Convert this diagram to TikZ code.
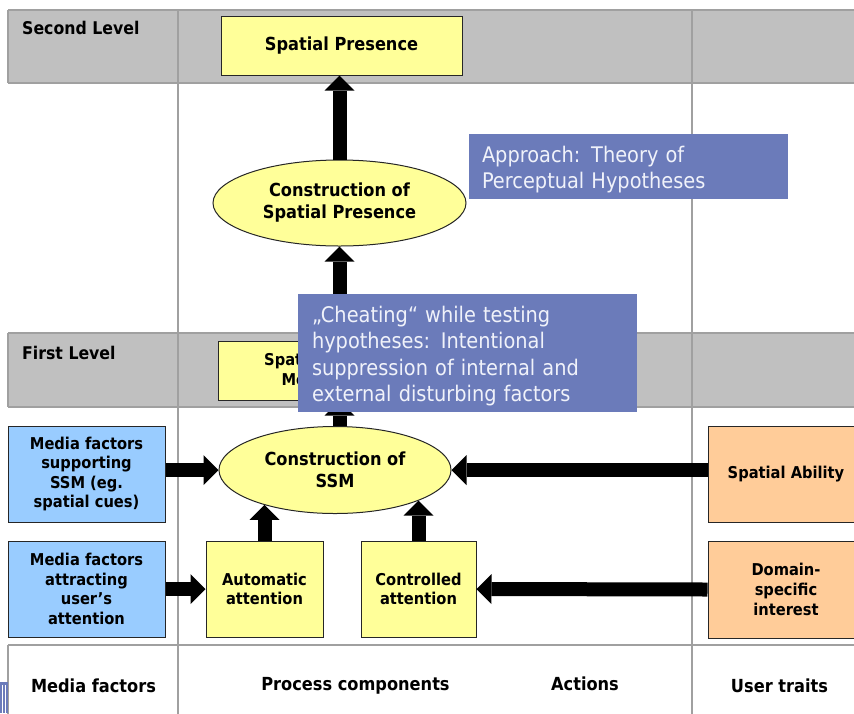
\documentclass[tikz,border=0pt]{standalone}
\usepackage{fontspec}
\setmainfont{DejaVu Sans}[FakeStretch=0.9]
\usetikzlibrary{arrows.meta,shapes.geometric}
\definecolor{bandgray}{HTML}{C0C0C0}
\definecolor{gridline}{HTML}{A0A0A0}
\definecolor{yel}{HTML}{FFFF99}
\definecolor{mblue}{HTML}{99CCFF}
\definecolor{orng}{HTML}{FFCC99}
\definecolor{callblue}{HTML}{6B7BBA}
\definecolor{calltext}{HTML}{F0F2FA}
\begin{document}
\begin{tikzpicture}[x=1pt,y=-1pt,
  box/.style={draw=black!85,line width=1pt,align=center,inner sep=2pt,
    font=\bfseries\fontsize{16.3}{19.6}\selectfont},
  ybox/.style={box,fill=yel},
  bbox/.style={box,fill=mblue},
  obox/.style={box,fill=orng},
  yell/.style={box,fill=yel,ellipse,font=\bfseries\fontsize{18}{22}\selectfont},
  lvl/.style={font=\bfseries\fontsize{17.5}{21}\selectfont,inner sep=0pt,anchor=west},
  btm/.style={font=\bfseries\fontsize{18}{22}\selectfont,inner sep=0pt},
  gline/.style={draw=gridline,line width=1.5pt},
  bigarrow/.style={line width=14pt,-{Triangle[width=30pt,length=15pt,line width=0pt]}},
  callbox/.style={fill=callblue,inner sep=0pt},
  calltxt/.style={text=calltext,align=left,inner sep=0pt,
    font=\fontsize{21.5}{26.3}\selectfont}]
\useasboundingbox (0,0) rectangle (854,713);
% bands and grid
\fill[bandgray] (8,10) rectangle (870,83);
\fill[bandgray] (8,333) rectangle (870,407);
\draw[gline] (8,10) -- (870,10) (8,83) -- (870,83) (8,10) -- (8,83);
\draw[gline] (8,333) -- (870,333) (8,407) -- (870,407) (8,333) -- (8,407);
\draw[gline] (8,645) -- (870,645) (8,645) -- (8,720);
\draw[gline] (178,10) -- (178,720) (692,10) -- (692,720);
% small logo fragment
\fill[callblue] (0,682) rectangle (8,713);
\draw[white,line width=0.8pt] (2.5,685) -- (2.5,713) (5.5,685) -- (5.5,713);
% level labels
\node[lvl] (l2) at (22,28) {Second Level};
\node[lvl] (l1) at (22,353) {First Level};
% bottom labels
\node[btm] (bmf) at (93.5,686) {Media factors};
\node[btm] (bpc) at (355.5,686) {Process components};
\node[btm] (bac) at (585,684) {Actions};
\node[btm] (but) at (779.5,686) {User traits};
% nodes
\node[ybox,minimum width=241pt,minimum height=59pt,font=\bfseries\fontsize{18}{22}\selectfont] (sp) at (341.5,45.5) {Spatial Presence};
\node[yell,minimum width=253pt,minimum height=86pt] (csp) at (339.5,203) {Construction of\\Spatial Presence};
\node[ybox,minimum width=231pt,minimum height=59pt] (sit) at (333.5,370.5) {Spatial Situation\\Model (SSM)};
\node[yell,minimum width=232pt,minimum height=87pt] (ssm) at (335,470) {Construction of\\SSM};
\node[bbox,minimum width=157pt,minimum height=96pt] (mf1) at (86.5,474) {Media factors\\supporting\\SSM (eg.\\spatial cues)};
\node[bbox,minimum width=157pt,minimum height=96pt] (mf2) at (86.5,589) {Media factors\\attracting\\user’s\\attention};
\node[ybox,minimum width=117pt,minimum height=96pt] (auto) at (264.5,589) {Automatic\\attention};
\node[ybox,minimum width=115pt,minimum height=96pt] (ctrl) at (418.5,589) {Controlled\\attention};
\node[obox,minimum width=156pt,minimum height=96pt] (abil) at (786,474) {Spatial Ability};
\node[obox,minimum width=156pt,minimum height=97pt] (dom) at (786,589.5) {Domain-\\specific\\interest};
% arrows
\draw[bigarrow] (csp.north) -- (csp.north |- sp.south);
\draw[bigarrow] (sit.north -| csp.south) -- (csp.south);
\draw[bigarrow] (ssm.north -| csp.south) -- (sit.south -| csp.south);
\draw[bigarrow] (mf1.east |- ssm.west) -- (ssm.west);
\draw[bigarrow] (abil.west |- ssm.east) -- (ssm.east);
\draw[bigarrow] (mf2.east) -- (auto.west);
\draw[bigarrow] (dom.west) -- (ctrl.east);
\draw[bigarrow] (auto.north) -- (auto.north |- ssm.206);
\draw[bigarrow] (ctrl.north) -- (ctrl.north |- ssm.340);
% callouts
\node[callbox,minimum width=319pt,minimum height=65pt] (apprbox) at (628.5,166.5) {};
\node[calltxt,text width=293pt] (appr) at ([yshift=-3pt]apprbox.center) {Approach: Theory of\\Perceptual Hypotheses};
\node[callbox,minimum width=339pt,minimum height=118pt] (cheatbox) at (467.5,353) {};
\node[calltxt,text width=311pt] (cheat) at ([yshift=-3pt]cheatbox.center) {„Cheating“ while testing\\hypotheses: Intentional\\suppression of internal and\\external disturbing factors};
\end{tikzpicture}
\end{document}
